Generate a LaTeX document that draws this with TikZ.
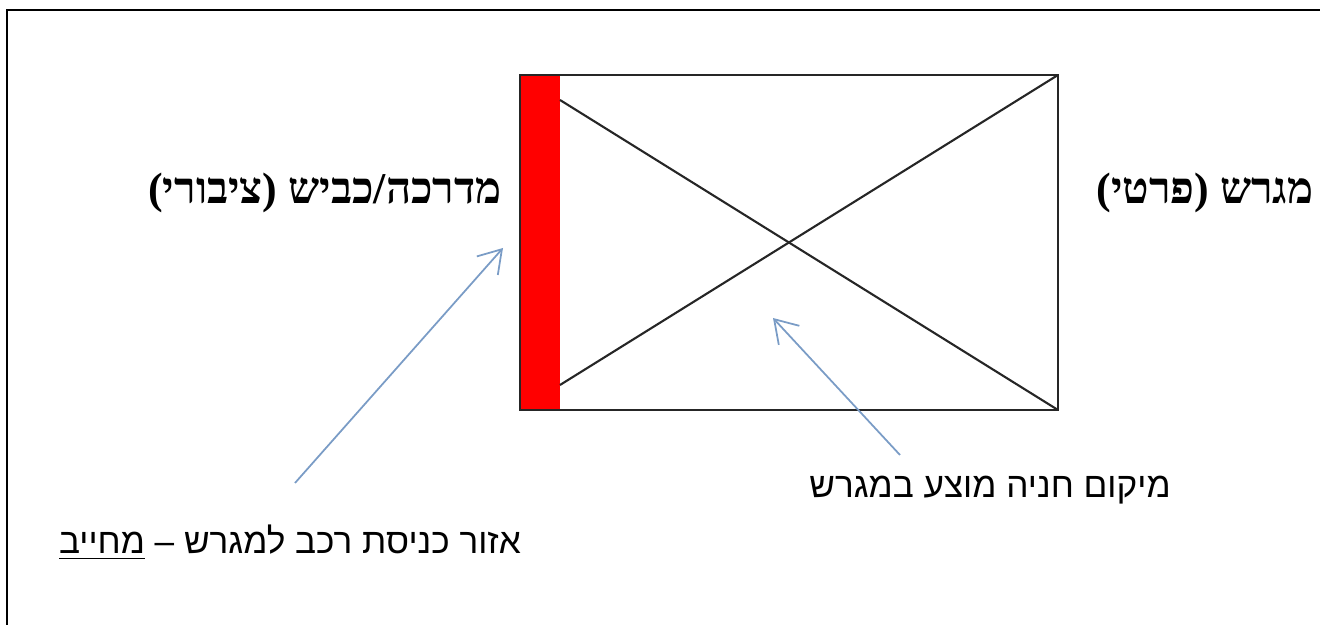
\documentclass[tikz,border=0pt]{standalone}
\usepackage{fontspec}
\setmainfont{Liberation Sans}
\newfontfamily\hebfont[Script=Hebrew]{Liberation Sans}
\newfontfamily\hebtitlefont[Script=Hebrew]{Liberation Serif}
\TeXXeTstate=1
\usepackage{tikz}
\usetikzlibrary{arrows.meta, positioning}
\definecolor{pointerblue}{HTML}{7A9CC6}
\definecolor{entryred}{HTML}{FF0000}
\tikzset{
	titlenode/.style={
			inner sep=0pt,
			font=\hebtitlefont\bfseries\fontsize{12.5}{15}\selectfont
		},
	notenode/.style={
			inner sep=0pt,
			font=\hebfont\fontsize{10}{12}\selectfont
		},
	plotline/.style={
			draw=black!85,
			line width=0.6pt
		},
	pointer/.style={
			draw=pointerblue,
			line width=0.5pt,
			-{Straight Barb[length=2.2mm,width=2.8mm]}
		}
}

\begin{document}
\begin{tikzpicture}[x=0.01cm, y=-0.01cm]
				\useasboundingbox (0, 0) rectangle (1320, 625);

				% page frame
				\draw[line width=0.8pt] (7, 625) -- (7, 10) -- (1320, 10);

				% plot
				\coordinate (plotnw) at (520, 75);
				\coordinate (plotse) at (1058, 410);
				\coordinate (redse) at (560, 410);
				\fill[entryred] (plotnw) rectangle (redse);
				\draw[plotline] (plotnw) rectangle (plotse);
				\coordinate (crossa) at (560, 100);
				\coordinate (crossb) at (560, 385);
				\draw[plotline] (crossa) -- (plotse);
				\draw[plotline] (crossb) -- (plotse |- plotnw);

				% labels
				\node[titlenode] (street) at (325, 193) {\beginR מדרכה/כביש (ציבורי)\endR};
				\node[titlenode] (privplot) at (1205, 193) {\beginR מגרש (פרטי)\endR};
				\node[notenode] (entry) at (290, 543) {\beginR אזור כניסת רכב למגרש – \underline{מחייב}\endR};
				\node[notenode] (parking) at (990, 490) {\beginR מיקום חניה מוצע במגרש\endR};

				% pointers
				\coordinate (entrytail) at (295, 483);
				\coordinate (entryhead) at (503, 248);
				\coordinate (parktail) at (900, 455);
				\coordinate (parkhead) at (773, 318);
				\draw[pointer] (entrytail) -- (entryhead);
				\draw[pointer] (parktail) -- (parkhead);
			\end{tikzpicture}
\end{document}
